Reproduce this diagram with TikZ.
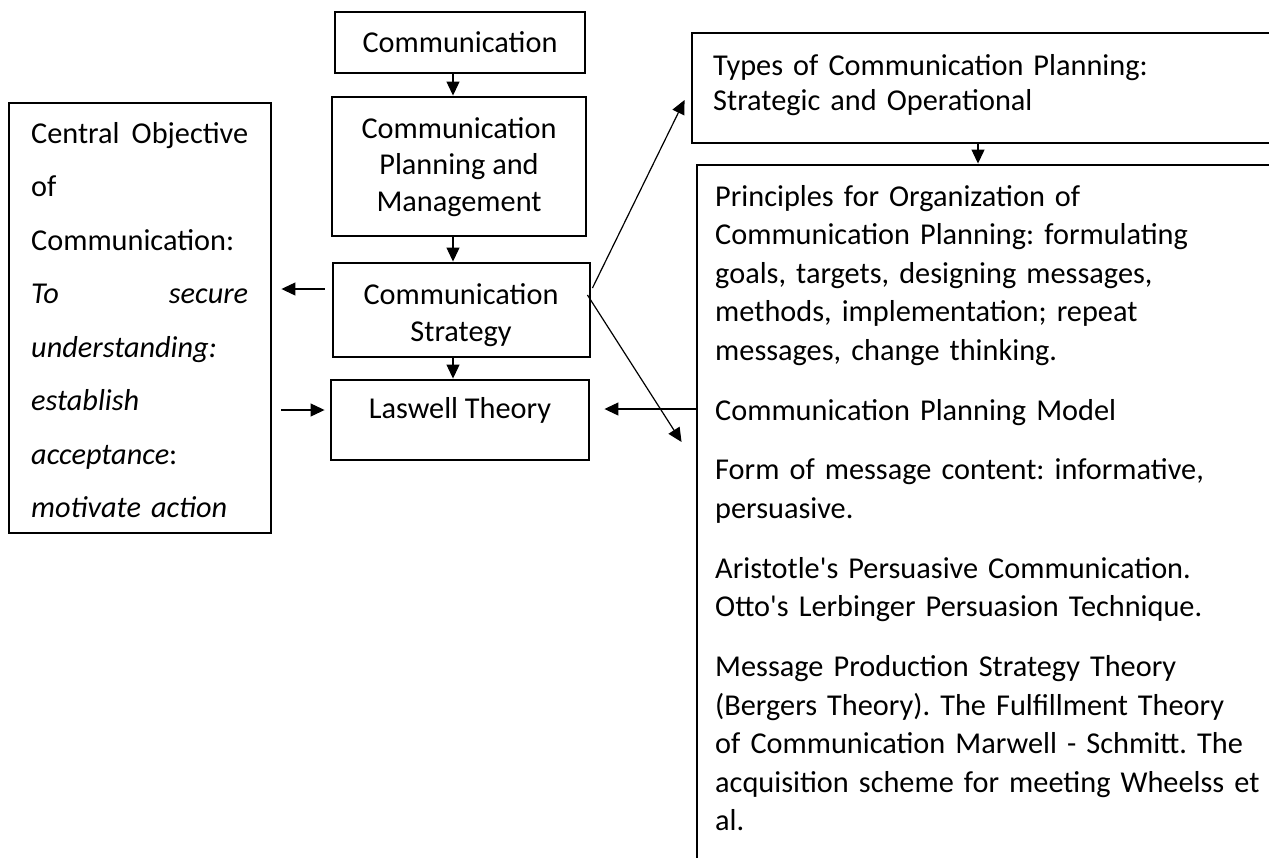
\documentclass[tikz,border=0pt]{standalone}
\usepackage{fontspec}
\setmainfont{Carlito}
\usetikzlibrary{arrows.meta,calc}
\begin{document}
\frenchspacing
\begin{tikzpicture}[x=1pt,y=-1pt,
  thickbox/.style={draw,line width=2.9pt,inner sep=0pt},
  thinbox/.style={draw,line width=1.4pt,inner sep=0pt},
  txt/.style={inner sep=0pt,font=\fontsize{30.3}{36.5}\selectfont\frenchspacing},
  arr/.style={line width=1.2pt,-{Triangle[length=14pt,width=13pt]}}]
\clip (0,0) rectangle (1269,857);
% boxes
\node[thinbox,minimum width=250pt,minimum height=61pt] (top) at (460,42.5) {};
\node[thickbox,minimum width=254pt,minimum height=139pt] (plan) at (459,166.5) {};
\node[thickbox,minimum width=257pt,minimum height=94pt] (strat) at (461.5,310) {};
\node[thickbox,minimum width=258pt,minimum height=80pt] (lasw) at (460,420) {};
\node[thickbox,minimum width=262pt,minimum height=430pt] (left) at (140,318) {};
\node[thickbox,minimum width=708pt,minimum height=110pt] (types) at (1046,88) {};
\node[thickbox,minimum width=703pt,minimum height=735pt] (big) at (1048.5,532.5) {};
% texts
\node[txt] (ttop) at (460,42) {Communication};
\node[txt,align=center] (tplan) at (459,167) {Communication\\Planning and\\Management};
\node[txt,align=center] (tstrat) at (461,315) {Communication\\Strategy};
\node[txt] (tlasw) at (460,410) {Laswell Theory};
\node[txt,anchor=base west,text width=217pt,align=left,font=\fontsize{30.3}{53.5}\selectfont\frenchspacing] (tleft) at (31,143)
 {Central\hfill Objective\\ of\\ Communication:\\ \textit{To}\hfill\textit{secure}\\ \textit{understanding:}\\ \textit{establish}\\ \textit{acceptance}:\\ \textit{motivate action}};
\node[txt,anchor=base west,text width=540pt,align=left,font=\fontsize{30.3}{35}\selectfont\frenchspacing] (ttypes) at (713,75)
 {Types of Communication Planning:\\ Strategic and Operational};
\node[txt,anchor=base west,text width=640pt,align=left,font=\fontsize{30.3}{38.5}\selectfont\frenchspacing] (tbig) at (715,206)
 {Principles for Organization of\\
  Communication Planning: formulating\\
  goals, targets, designing messages,\\
  methods, implementation; repeat\\
  messages, change thinking.\\[21.5pt]
  Communication Planning Model\\[21pt]
  Form of message content: informative,\\
  persuasive.\\[21.5pt]
  Aristotle\textquotesingle s Persuasive Communication.\\
  Otto\textquotesingle s Lerbinger Persuasion Technique.\\[21.5pt]
  Message Production Strategy Theory\\
  (Bergers Theory). The Fulfillment Theory\\
  of Communication Marwell - Schmitt. The\\
  acquisition scheme for meeting Wheelss et\\
  al.};
% helper coordinates
\coordinate (ax) at (453,0);
\coordinate (bx) at (978,0);
\coordinate (y1) at (0,289);
\coordinate (y2) at (0,410);
\coordinate (y3) at (0,409);
% connectors
\draw[arr] (top.south -| ax) -- (plan.north -| ax);
\draw[arr] (plan.south -| ax) -- (strat.north -| ax);
\draw[arr] (strat.south -| ax) -- (lasw.north -| ax);
\draw[arr] (types.south -| bx) -- (big.north -| bx);
\draw[arr] ($(strat.west |- y1)+(-7,0)$) -- ($(left.east |- y1)+(9,0)$);
\draw[arr] ($(left.east |- y2)+(9,0)$) -- ($(lasw.west |- y2)+(-5,0)$);
\draw[arr] (big.west |- y3) -- ($(lasw.east |- y3)+(14,0)$);
\draw[arr] ($(strat.east |- y1)+(1,-1)$) -- ($(types.west |- 0,100)+(-6,0)$);
\draw[arr] ($(strat.east |- 0,295)+(-4,0)$) -- ($(big.west |- 0,442)+(-14,0)$);
\end{tikzpicture}
\end{document}
